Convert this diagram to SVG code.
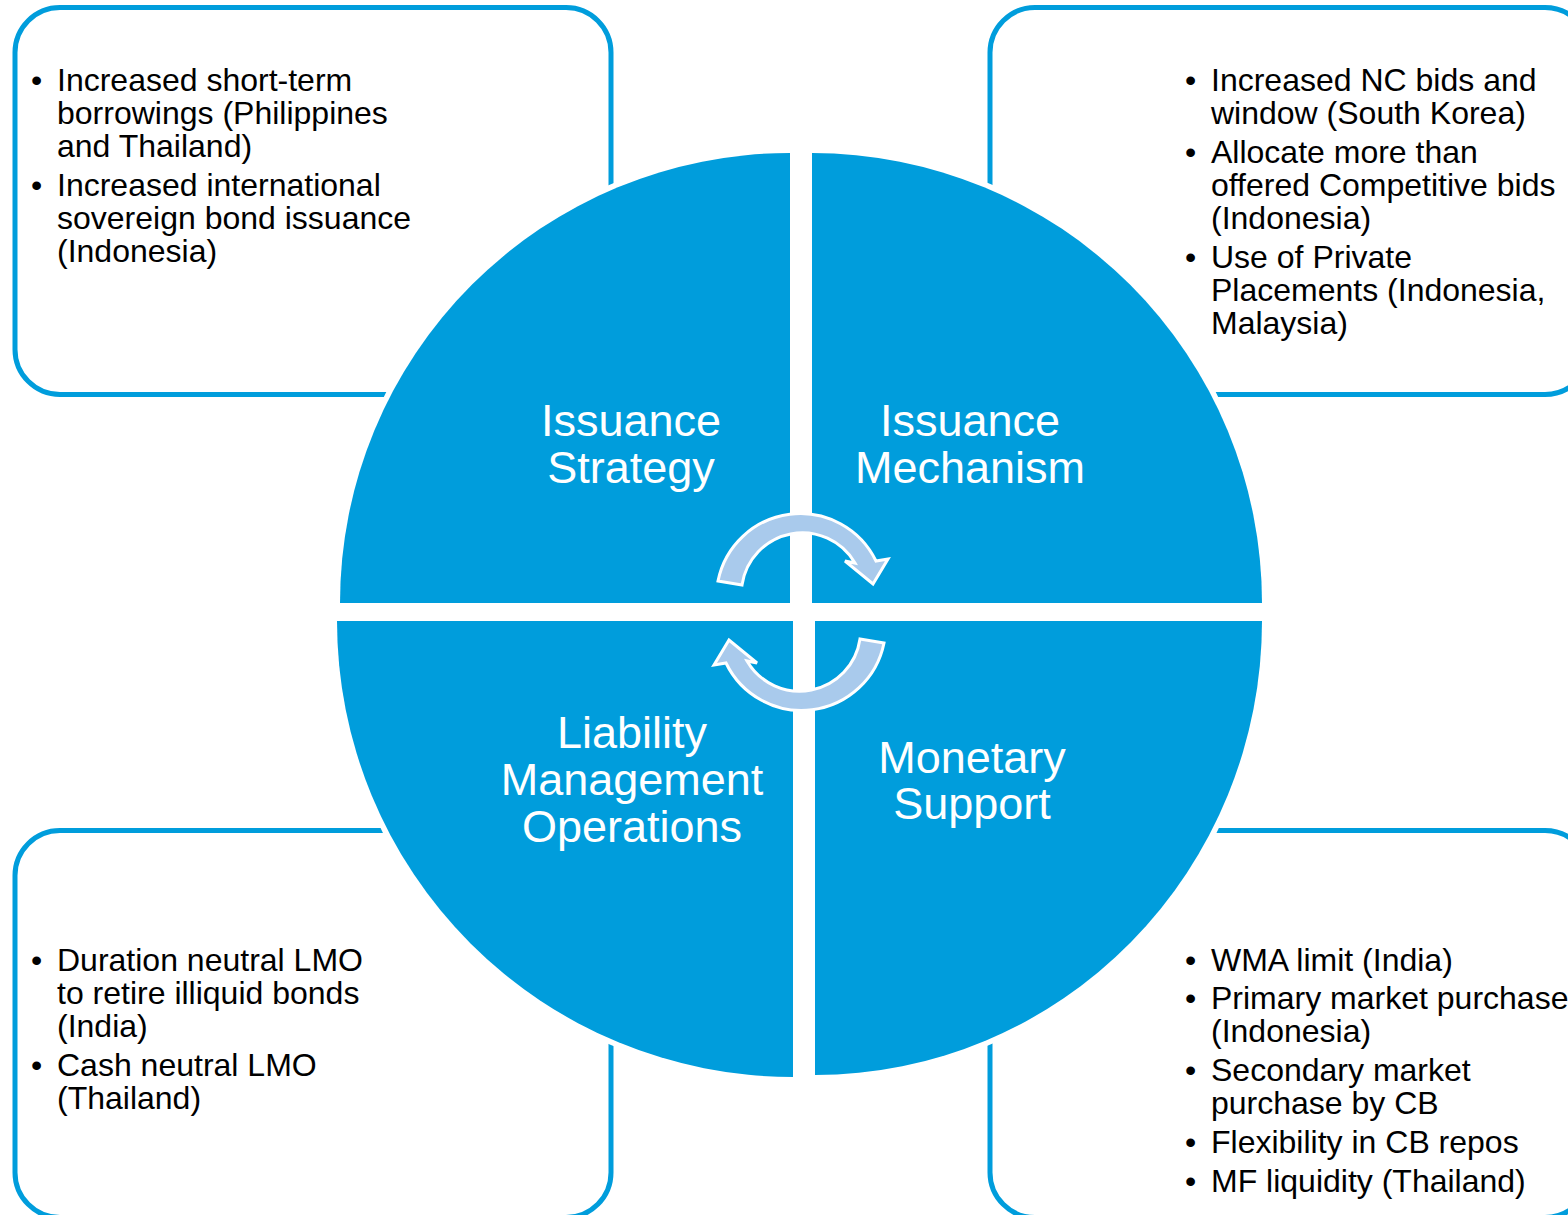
<svg xmlns="http://www.w3.org/2000/svg" width="1568" height="1215" viewBox="0 0 1568 1215">
<defs>
<style>
.box{fill:#fff;stroke:#009DDC;stroke-width:5}
.slice{fill:#009DDC;stroke:#fff;stroke-width:11;paint-order:stroke}
.arrow{fill:#A9CAEC;stroke:#fff;stroke-width:3;stroke-linejoin:miter}
.lbl{font-family:"Liberation Sans",Arial,sans-serif;font-size:45px;fill:#fff;text-anchor:middle}
.bul{font-family:"Liberation Sans",Arial,sans-serif;font-size:32px;fill:#000}
</style>
</defs>
<rect width="1568" height="1215" fill="#fff"/>

<g id="box-tl"><rect class="box" x="15" y="7.5" width="596" height="387" rx="45"/>
<text class="bul"><tspan x="31" y="91">•</tspan><tspan x="57" y="91">Increased short-term</tspan><tspan x="57" y="124">borrowings (Philippines</tspan><tspan x="57" y="157">and Thailand)</tspan><tspan x="31" y="196">•</tspan><tspan x="57" y="196">Increased international</tspan><tspan x="57" y="229">sovereign bond issuance</tspan><tspan x="57" y="262">(Indonesia)</tspan></text></g>

<g id="box-tr"><rect class="box" x="990" y="7.5" width="600" height="387" rx="45"/>
<text class="bul"><tspan x="1185" y="91">•</tspan><tspan x="1211" y="91">Increased NC bids and</tspan><tspan x="1211" y="124">window (South Korea)</tspan><tspan x="1185" y="163">•</tspan><tspan x="1211" y="163">Allocate more than</tspan><tspan x="1211" y="196">offered Competitive bids</tspan><tspan x="1211" y="229">(Indonesia)</tspan><tspan x="1185" y="268">•</tspan><tspan x="1211" y="268">Use of Private</tspan><tspan x="1211" y="301">Placements (Indonesia,</tspan><tspan x="1211" y="334">Malaysia)</tspan></text></g>

<g id="box-bl"><rect class="box" x="15" y="830.5" width="596" height="387" rx="45"/>
<text class="bul"><tspan x="31" y="971">•</tspan><tspan x="57" y="971">Duration neutral LMO</tspan><tspan x="57" y="1004">to retire illiquid bonds</tspan><tspan x="57" y="1037">(India)</tspan><tspan x="31" y="1076">•</tspan><tspan x="57" y="1076">Cash neutral LMO</tspan><tspan x="57" y="1109">(Thailand)</tspan></text></g>

<g id="box-br"><rect class="box" x="990" y="830.5" width="600" height="387" rx="45"/>
<text class="bul"><tspan x="1185" y="971">•</tspan><tspan x="1211" y="971">WMA limit (India)</tspan><tspan x="1185" y="1009">•</tspan><tspan x="1211" y="1009">Primary market purchase</tspan><tspan x="1211" y="1042">(Indonesia)</tspan><tspan x="1185" y="1081">•</tspan><tspan x="1211" y="1081">Secondary market</tspan><tspan x="1211" y="1114">purchase by CB</tspan><tspan x="1185" y="1153">•</tspan><tspan x="1211" y="1153">Flexibility in CB repos</tspan><tspan x="1185" y="1192">•</tspan><tspan x="1211" y="1192">MF liquidity (Thailand)</tspan></text></g>

<g id="slice-issuance-strategy"><path class="slice" d="M790,603 L340,603 A450,450 0 0 1 790,153 Z"/>
<text class="lbl"><tspan x="631" y="436">Issuance</tspan><tspan x="631" y="483">Strategy</tspan></text></g>

<g id="slice-issuance-mechanism"><path class="slice" d="M812,603 L812,153 A450,450 0 0 1 1262,603 Z"/>
<text class="lbl"><tspan x="970" y="436">Issuance</tspan><tspan x="970" y="483">Mechanism</tspan></text></g>

<g id="slice-lmo"><path class="slice" d="M793,621 L793,1077 A456,456 0 0 1 337,621 Z"/>
<text class="lbl"><tspan x="632" y="748">Liability</tspan><tspan x="632" y="795">Management</tspan><tspan x="632" y="842">Operations</tspan></text></g>

<g id="slice-monetary-support"><path class="slice" d="M815,621 L1262,621 A447,454 0 0 1 815,1075 Z"/>
<text class="lbl"><tspan x="972" y="773">Monetary</tspan><tspan x="972" y="819">Support</tspan></text></g>

<g id="connectors">
<path id="arrow-top" class="arrow" d="M718,581 A84,84 0 0 1 876,561 L888,559 L873,584 L845,561 L855,563 A61,61 0 0 0 742,585 Z"/>
<path id="arrow-bottom" class="arrow" transform="rotate(180 801 612)" d="M718,581 A84,84 0 0 1 876,561 L888,559 L873,584 L845,561 L855,563 A61,61 0 0 0 742,585 Z"/>
</g>
</svg>
